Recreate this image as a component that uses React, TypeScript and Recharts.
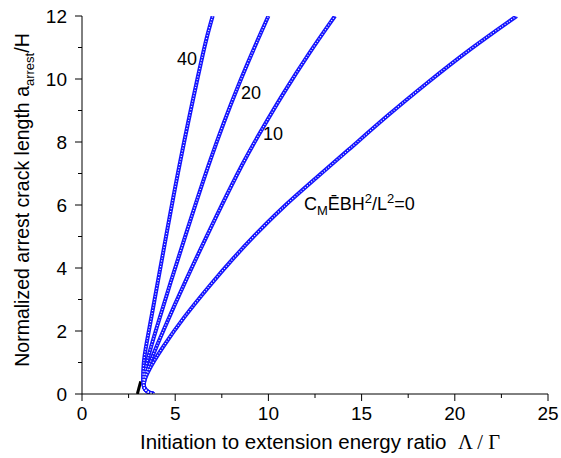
import { LineChart, Line, XAxis, YAxis, ReferenceDot } from "recharts";

const xTicks = [0, 2.5, 5, 7.5, 10, 12.5, 15, 17.5, 20, 22.5, 25];
const xMajor = [0, 5, 10, 15, 20, 25];
const yTicks = [0, 1, 2, 3, 4, 5, 6, 7, 8, 9, 10, 11, 12];
const yMajor = [0, 2, 4, 6, 8, 10, 12];

// every curve leaves the same short hook near Λ/Γ ≈ 3
const hook: [number, number][] = [
  [3.86, 0], [3.6, 0.04], [3.38, 0.13], [3.25, 0.3],
];

const curve0: [number, number][] = [
  [3.55, 0.75], [4.25, 1.42], [5.4, 2.4], [6.97, 3.53], [8.1, 4.3], [9.2, 5.0],
  [10.62, 5.85], [12.35, 6.75], [14.3, 7.75], [16.3, 8.8], [18.45, 9.85], [20.8, 10.95], [23.32, 12],
];
const curve10: [number, number][] = [
  [3.63, 1.0], [4.35, 2.0], [5.5, 3.53], [7.2, 5.65], [8.7, 7.43], [9.6, 8.35],
  [10.8, 9.55], [12.15, 10.8], [13.57, 12],
];
const curve20: [number, number][] = [
  [3.45, 1.0], [3.95, 2.0], [4.74, 3.53], [5.6, 5.12], [6.85, 7.43], [8.39, 9.86], [10.0, 12],
];
const curve40: [number, number][] = [
  [3.3, 1.0], [3.4, 1.42], [3.9, 3.0], [4.38, 4.59], [5.26, 7.43], [6.33, 10.39],
  [6.65, 11.24], [7.01, 12],
];
const startStub: [number, number][] = [[2.97, 0], [3.15, 0.4]];

const toRows = (pts: [number, number][]) => pts.map(([x, y]) => ({ x, y }));
const series = [curve0, curve10, curve20, curve40].map((c) => toRows([...hook, ...c]));

const FONT = "'Liberation Sans', Arial, sans-serif";
const BLUE = "#1414ff";

function XTick({ x, y, payload }: any) {
  const major = xMajor.includes(payload.value);
  return (
    <g>
      <line x1={x} x2={x} y1={y} y2={y + (major ? 7 : 4)} stroke="#000" strokeWidth={1} />
      {major && (
        <text x={x} y={y + 26} textAnchor="middle" fontSize={19} fontFamily={FONT} fill="#000">
          {payload.value}
        </text>
      )}
    </g>
  );
}

function YTick({ x, y, payload }: any) {
  const major = yMajor.includes(payload.value);
  return (
    <g>
      <line x1={x - (major ? 7 : 4)} x2={x} y1={y} y2={y} stroke="#000" strokeWidth={1} />
      {major && (
        <text x={x - 15} y={y + 7} textAnchor="end" fontSize={19} fontFamily={FONT} fill="#000">
          {payload.value}
        </text>
      )}
    </g>
  );
}

function CurveLabel({ text }: { text: string }) {
  return ({ viewBox }: any) => (
    <text x={viewBox.x} y={viewBox.y} fontSize={18} fontFamily={FONT} fill="#000">
      {text}
    </text>
  );
}

function ParamLabel({ viewBox }: any) {
  return (
    <text x={viewBox.x} y={viewBox.y} fontSize={18} fontFamily={FONT} fill="#000">
      C
      <tspan fontSize={13} dy={5}>M</tspan>
      <tspan dy={-5}>ĒBH</tspan>
      <tspan fontSize={13} dy={-7}>2</tspan>
      <tspan dy={7}>/L</tspan>
      <tspan fontSize={13} dy={-7}>2</tspan>
      <tspan dy={7}>=0</tspan>
    </text>
  );
}

function YTitle() {
  return (
    <text
      transform="translate(29,200) rotate(-90)"
      textAnchor="middle"
      fontSize={19.5}
      fontFamily={FONT}
      fill="#000"
    >
      Normalized arrest crack length a
      <tspan fontSize={13} dy={5}>arrest</tspan>
      <tspan dy={-5}>/H</tspan>
    </text>
  );
}

export default function App() {
  return (
    <div style={{ position: "absolute", left: 0, top: 0, width: 561, height: 458, background: "#fff" }}>
      <LineChart width={561} height={458} margin={{ top: 16, right: 13, bottom: 0, left: 0 }}>
        <XAxis
          dataKey="x"
          type="number"
          domain={[0, 25]}
          ticks={xTicks}
          interval={0}
          height={64}
          tickLine={false}
          tickSize={0}
          tickMargin={0}
          tick={<XTick />}
          axisLine={{ stroke: "#000", strokeWidth: 1 }}
          allowDataOverflow
        />
        <YAxis
          type="number"
          domain={[0, 12]}
          ticks={yTicks}
          interval={0}
          width={82}
          tickLine={false}
          tickSize={0}
          tickMargin={0}
          tick={<YTick />}
          axisLine={{ stroke: "#000", strokeWidth: 1 }}
          allowDataOverflow
        />
        <Line
          data={toRows(startStub)}
          dataKey="y"
          type="linear"
          stroke="#000"
          strokeWidth={3}
          dot={false}
          isAnimationActive={false}
        />
        {series.map((rows, i) => (
          <Line
            key={`b${i}`}
            data={rows}
            dataKey="y"
            type="basis"
            stroke={BLUE}
            strokeWidth={4}
            dot={false}
            isAnimationActive={false}
          />
        ))}
        {series.map((rows, i) => (
          <Line
            key={`w${i}`}
            data={rows}
            dataKey="y"
            type="basis"
            stroke="#fff"
            strokeWidth={1.2}
            strokeDasharray="1 1.8"
            dot={false}
            isAnimationActive={false}
          />
        ))}
        <ReferenceDot x={5.1} y={10.44} r={0} label={CurveLabel({ text: "40" })} />
        <ReferenceDot x={8.53} y={9.37} r={0} label={CurveLabel({ text: "20" })} />
        <ReferenceDot x={9.71} y={8.06} r={0} label={CurveLabel({ text: "10" })} />
        <ReferenceDot x={11.91} y={5.84} r={0} label={ParamLabel} />
      </LineChart>
      <svg width={561} height={458} style={{ position: "absolute", left: 0, top: 0, pointerEvents: "none" }}>
        <YTitle />
        <text x={320} y={449} textAnchor="middle" fontSize={20.5} fontFamily={FONT} fill="#000" style={{ whiteSpace: "pre" }}>
          {"Initiation to extension energy ratio  "}
          <tspan fontFamily="'Liberation Serif', 'Times New Roman', serif">{"Λ / Γ"}</tspan>
        </text>
      </svg>
    </div>
  );
}
